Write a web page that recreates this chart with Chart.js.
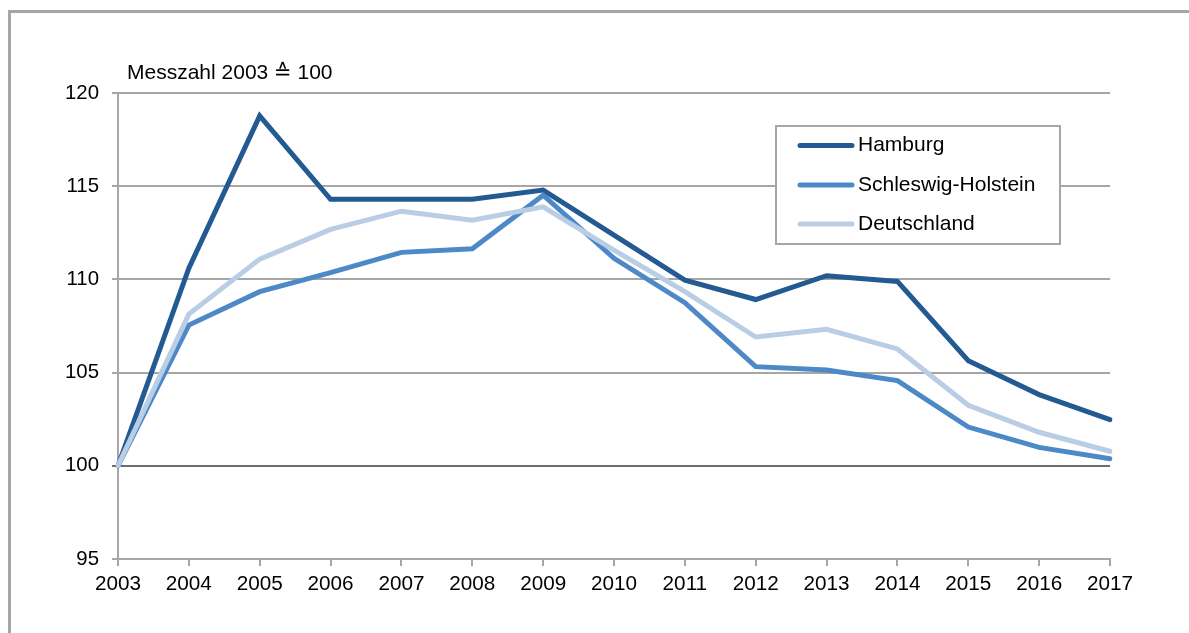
<!DOCTYPE html>
<html>
<head>
<meta charset="utf-8">
<script src="https://cdn.jsdelivr.net/npm/chart.js@4.4.1/dist/chart.umd.min.js"></script>
<style>
  html, body { margin: 0; padding: 0; background: #ffffff; }
  #wrap { position: relative; width: 1189px; height: 633px; }
</style>
</head>
<body>
<div id="wrap"><canvas id="c" width="1189" height="633"></canvas></div>
<script>
const years = ['2003','2004','2005','2006','2007','2008','2009','2010','2011','2012','2013','2014','2015','2016','2017'];
const hamburg = [100, 110.6, 118.77, 114.3, 114.3, 114.3, 114.79, 112.37, 109.96, 108.92, 110.2, 109.89, 105.64, 103.82, 102.48];
const schleswigHolstein = [100, 107.55, 109.34, 110.36, 111.45, 111.64, 114.52, 111.13, 108.75, 105.32, 105.14, 104.57, 102.08, 100.99, 100.38];
const deutschland = [100, 108.14, 111.09, 112.68, 113.66, 113.18, 113.89, 111.57, 109.34, 106.91, 107.32, 106.27, 103.25, 101.8, 100.78];
const yTicks = [95, 100, 105, 110, 115, 120];
const unitLabel = 'Messzahl 2003 \u2259 100';

const FONT = '"Liberation Sans", Arial, "DejaVu Sans", sans-serif';

// outer frame, axis caption and the boxed legend
const decorations = {
  id: 'decorations',
  beforeDraw(chart) {
    const ctx = chart.ctx;
    ctx.save();
    ctx.fillStyle = '#ffffff';
    ctx.fillRect(0, 0, chart.width, chart.height);
    ctx.fillStyle = '#a6a6a6';
    ctx.fillRect(8, 10, 3, chart.height - 10);
    ctx.fillRect(8, 10, chart.width - 8, 3);
    ctx.restore();
  },
  afterDraw(chart) {
    const ctx = chart.ctx;
    ctx.save();
    ctx.fillStyle = '#000000';
    ctx.font = '21px ' + FONT;
    ctx.textBaseline = 'middle';
    ctx.textAlign = 'left';
    ctx.fillText(unitLabel, 127, 73);

    // legend box
    ctx.fillStyle = '#ffffff';
    ctx.fillRect(776, 126, 284, 118);
    ctx.strokeStyle = '#a6a6a6';
    ctx.lineWidth = 2;
    ctx.strokeRect(776, 126, 284, 118);
    const rows = [145.5, 185, 224];
    chart.data.datasets.forEach((ds, i) => {
      const y = rows[i];
      ctx.strokeStyle = ds.borderColor;
      ctx.lineWidth = 5;
      ctx.lineCap = 'round';
      ctx.beginPath();
      ctx.moveTo(800, y);
      ctx.lineTo(852, y);
      ctx.stroke();
      ctx.fillStyle = '#000000';
      ctx.fillText(ds.label, 858, y);
    });
    ctx.restore();
  }
};

const lineStyle = {
  borderWidth: 5,
  pointRadius: 0,
  pointHoverRadius: 0,
  tension: 0,
  fill: false,
  borderCapStyle: 'round',
  borderJoinStyle: 'miter'
};

new Chart(document.getElementById('c'), {
  type: 'line',
  data: {
    labels: years,
    datasets: [
      Object.assign({ label: 'Hamburg', data: hamburg, borderColor: '#245a92', order: 3 }, lineStyle),
      Object.assign({ label: 'Schleswig-Holstein', data: schleswigHolstein, borderColor: '#4d88c7', order: 2 }, lineStyle),
      Object.assign({ label: 'Deutschland', data: deutschland, borderColor: '#b9cde5', order: 1 }, lineStyle)
    ]
  },
  options: {
    responsive: false,
    animation: false,
    events: [],
    layout: { padding: { top: 93, right: 79, left: 0, bottom: 0 } },
    plugins: {
      legend: { display: false },
      tooltip: { enabled: false },
      title: { display: false }
    },
    scales: {
      x: {
        type: 'category',
        offset: false,
        grid: {
          display: true,
          drawOnChartArea: false,
          drawTicks: true,
          tickLength: 7,
          color: '#a6a6a6',
          lineWidth: 2
        },
        border: { display: true, color: '#a6a6a6', width: 2 },
        ticks: {
          color: '#000000',
          font: { family: FONT, size: 20.7 },
          padding: 6,
          maxRotation: 0,
          autoSkip: false
        },
        afterFit(scale) { scale.height = 74; }
      },
      y: {
        min: 95,
        max: 120,
        afterBuildTicks(scale) { scale.ticks = yTicks.map(v => ({ value: v })); },
        grid: {
          drawTicks: true,
          tickLength: 6,
          lineWidth: 2,
          color(ctx) { return ctx.tick && ctx.tick.value === 100 ? '#6e6e6e' : '#a6a6a6'; }
        },
        border: { display: true, color: '#a6a6a6', width: 2 },
        ticks: {
          color: '#000000',
          font: { family: FONT, size: 20.4 },
          padding: 13
        },
        afterFit(scale) { scale.width = 118; }
      }
    }
  },
  plugins: [decorations]
});
</script>
</body>
</html>
